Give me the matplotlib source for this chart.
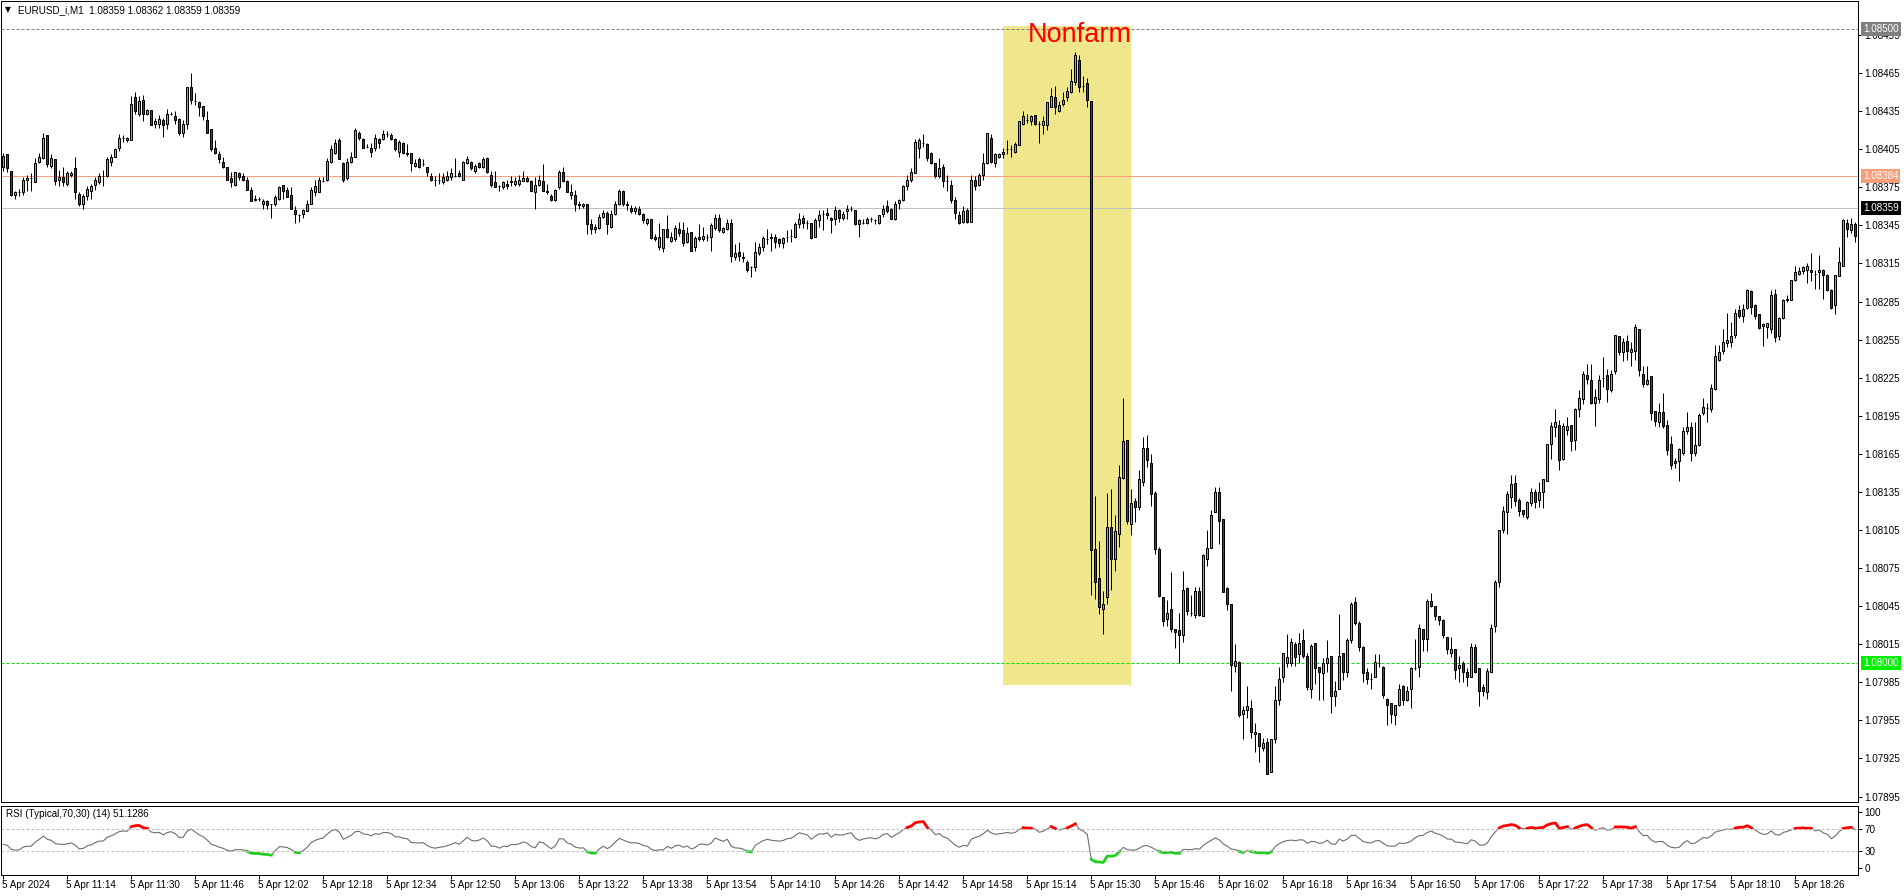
import numpy as np
import matplotlib.pyplot as plt
from matplotlib.patches import Rectangle
import matplotlib.transforms as mtransforms

plt.rcParams['font.family'] = ['Liberation Sans', 'DejaVu Sans']

# EURUSD M1, 5 Apr 2024, prices in points above 1.08000
open_pts = [391, 401, 388, 369, 371, 371, 381, 382, 379, 395, 398, 416, 392, 397, 381, 383, 378, 385, 390, 370,
            362, 368, 372, 377, 379, 384, 384, 395, 399, 406, 414, 412, 412, 446, 433, 444, 433, 436, 425, 425,
            428, 425, 433, 431, 429, 418, 425, 454, 443, 442, 439, 428, 421, 406, 401, 395, 391, 382, 377, 386,
            384, 381, 373, 366, 366, 362, 364, 362, 362, 366, 377, 373, 369, 357, 353, 354, 356, 362, 371, 371,
            380, 381, 395, 402, 412, 394, 382, 395, 399, 418, 413, 407, 406, 406, 413, 413, 417, 416, 413, 403,
            410, 402, 402, 392, 397, 393, 391, 384, 381, 381, 379, 381, 383, 384, 386, 381, 394, 395, 388, 394,
            391, 398, 385, 379, 376, 375, 378, 379, 378, 378, 380, 382, 380, 371, 377, 380, 372, 368, 365, 375,
            387, 380, 369, 369, 362, 360, 362, 346, 342, 343, 352, 355, 344, 354, 362, 372, 362, 359, 356, 358,
            354, 347, 350, 336, 328, 327, 342, 333, 334, 342, 341, 332, 340, 328, 336, 334, 336, 336, 343, 351,
            340, 342, 347, 320, 324, 320, 316, 312, 312, 323, 328, 334, 335, 336, 334, 331, 336, 337, 336, 346,
            351, 347, 347, 336, 349, 354, 355, 351, 350, 357, 351, 356, 358, 357, 346, 347, 347, 350, 349, 347,
            354, 360, 358, 350, 363, 365, 376, 381, 386, 406, 410, 409, 402, 394, 384, 391, 380, 377, 365, 353,
            348, 357, 348, 381, 377, 385, 394, 414, 394, 399, 401, 405, 405, 403, 408, 425, 428, 427, 432, 425,
            424, 424, 438, 446, 435, 441, 446, 450, 458, 475, 455, 457, 443, 90, 67, 43, 52, 107, 82, 102,
            146, 176, 110, 128, 123, 143, 170, 158, 134, 90, 52, 35, 43, 27, 26, 22, 59, 40, 38, 57,
            37, 82, 91, 119, 135, 114, 59, 47, -2, 1, -40, -37, -35, -56, -55, -67, -62, -86, -60, -29,
            -11, 0, 0, 15, 7, 18, 6, -20, 16, -3, -8, 0, 6, -26, -20, 8, -7, 18, 48, 32,
            13, -7, -12, -11, 0, -3, -28, -31, -41, -33, -18, -29, -20, -4, -3, 27, 19, 49, 45, 37,
            34, 21, 8, 11, -4, 0, -7, -11, 13, -4, -19, -23, -7, 29, 64, 105, 119, 131, 142, 129,
            121, 115, 126, 135, 129, 135, 144, 173, 186, 188, 161, 184, 188, 176, 200, 208, 227, 223, 205, 208,
            225, 227, 215, 230, 258, 245, 254, 245, 246, 263, 228, 220, 226, 199, 190, 198, 188, 173, 158, 159,
            166, 183, 186, 166, 172, 197, 201, 200, 216, 239, 246, 252, 253, 259, 278, 274, 280, 293, 282, 275,
            266, 265, 263, 291, 258, 272, 286, 286, 302, 307, 309, 310, 310, 307, 308, 310, 306, 294, 282, 305,
            313, 347, 341, 346]
high_pts = [402, 401, 388, 372, 374, 383, 385, 386, 398, 402, 418, 416, 401, 397, 389, 391, 388, 388, 399, 371,
            370, 376, 378, 383, 386, 389, 399, 401, 406, 417, 416, 415, 447, 450, 447, 448, 437, 436, 430, 432,
            430, 437, 434, 435, 430, 428, 454, 465, 449, 443, 439, 435, 421, 412, 404, 399, 391, 387, 387, 387,
            386, 383, 375, 369, 367, 366, 365, 362, 369, 376, 377, 375, 375, 360, 354, 358, 365, 375, 381, 383,
            383, 398, 408, 413, 414, 395, 398, 403, 422, 419, 414, 409, 410, 417, 414, 420, 419, 418, 414, 412,
            411, 409, 402, 397, 399, 397, 391, 386, 384, 386, 386, 388, 390, 398, 389, 396, 400, 396, 393, 395,
            399, 399, 388, 388, 377, 380, 381, 384, 383, 385, 388, 384, 381, 383, 385, 393, 378, 370, 374, 389,
            391, 381, 378, 373, 364, 363, 362, 350, 346, 354, 357, 356, 357, 364, 374, 373, 364, 361, 360, 360,
            355, 351, 350, 338, 347, 342, 353, 340, 345, 348, 348, 344, 340, 337, 346, 344, 338, 347, 354, 354,
            344, 350, 350, 330, 332, 324, 318, 313, 332, 331, 337, 342, 339, 338, 335, 336, 341, 342, 348, 355,
            353, 349, 347, 351, 357, 357, 359, 352, 360, 358, 356, 361, 360, 357, 350, 350, 352, 352, 350, 353,
            361, 365, 359, 364, 366, 377, 385, 390, 413, 414, 417, 410, 403, 394, 398, 393, 385, 381, 367, 356,
            360, 359, 385, 384, 386, 402, 418, 417, 402, 402, 406, 412, 408, 411, 427, 435, 433, 432, 432, 427,
            431, 442, 453, 455, 443, 450, 454, 468, 482, 479, 463, 461, 443, 132, 96, 57, 134, 137, 117, 156,
            209, 176, 137, 130, 152, 178, 180, 165, 136, 92, 52, 50, 72, 27, 40, 73, 60, 54, 60, 60,
            86, 105, 121, 139, 139, 114, 60, 47, 15, 2, -34, -18, -29, -47, -55, -59, -59, -60, -18, -3,
            8, 23, 20, 17, 24, 27, 8, 15, 16, -3, 4, 18, 6, -14, 39, 8, 20, 48, 52, 33,
            14, -4, -8, 7, 7, -2, -27, -31, -33, -16, -17, -18, -3, 19, 31, 27, 51, 55, 45, 37,
            35, 21, 21, 11, 6, 2, -4, 16, 15, -4, -16, -4, 31, 66, 105, 124, 136, 148, 148, 130,
            121, 128, 138, 137, 143, 145, 173, 190, 200, 192, 189, 194, 188, 201, 215, 230, 236, 236, 216, 227,
            241, 232, 231, 259, 258, 256, 259, 253, 267, 263, 234, 234, 226, 199, 205, 213, 192, 179, 162, 170,
            186, 198, 190, 190, 197, 209, 205, 220, 251, 251, 263, 276, 269, 279, 282, 283, 295, 294, 283, 275,
            268, 268, 294, 295, 273, 287, 290, 302, 313, 312, 313, 315, 323, 310, 322, 311, 307, 295, 306, 328,
            350, 350, 351, 348]
low_pts = [388, 387, 368, 366, 368, 369, 372, 372, 379, 394, 397, 391, 390, 377, 376, 376, 376, 383, 366, 360,
           358, 365, 366, 373, 378, 376, 383, 392, 399, 404, 411, 411, 412, 433, 431, 427, 432, 424, 422, 422,
           415, 421, 432, 425, 416, 415, 421, 441, 440, 431, 428, 418, 404, 401, 394, 390, 381, 375, 376, 381,
           380, 373, 364, 364, 364, 358, 358, 351, 360, 365, 366, 367, 358, 347, 348, 351, 356, 362, 368, 371,
           379, 380, 394, 401, 397, 379, 381, 394, 399, 412, 406, 406, 399, 404, 406, 412, 415, 412, 404, 399,
           401, 400, 388, 391, 390, 392, 384, 380, 376, 378, 378, 380, 381, 383, 383, 381, 393, 389, 386, 390,
           390, 386, 375, 375, 372, 374, 374, 376, 376, 376, 380, 379, 372, 358, 376, 372, 370, 364, 364, 374,
           379, 371, 366, 356, 358, 359, 338, 338, 339, 342, 351, 338, 343, 353, 361, 360, 357, 355, 354, 353,
           347, 345, 334, 333, 326, 324, 335, 332, 333, 337, 329, 331, 325, 325, 333, 333, 333, 325, 341, 340,
           339, 341, 316, 318, 317, 316, 308, 304, 309, 322, 325, 330, 325, 327, 328, 327, 332, 332, 335, 343,
           343, 342, 334, 336, 344, 341, 350, 339, 345, 348, 349, 350, 356, 345, 336, 346, 346, 348, 346, 346,
           352, 355, 350, 349, 358, 364, 373, 379, 386, 398, 407, 396, 393, 382, 382, 375, 372, 363, 350, 346,
           347, 347, 348, 373, 376, 381, 393, 394, 391, 398, 398, 401, 399, 402, 408, 424, 426, 424, 424, 410,
           417, 420, 438, 433, 434, 439, 443, 449, 456, 450, 450, 438, 54, 51, 39, 23, 47, 58, 73, 92,
           145, 110, 101, 111, 121, 140, 155, 124, 86, 52, 29, 29, 25, 12, 0, 17, 38, 37, 36, 37,
           37, 77, 91, 119, 94, 56, 42, -22, -7, -42, -60, -43, -59, -70, -78, -69, -87, -86, -63, -33,
           -15, -3, -2, -2, 0, 4, -21, -27, -16, -29, -29, -7, -39, -34, -20, -13, -11, 16, 30, 10,
           -15, -16, -20, -11, -3, -27, -49, -47, -49, -34, -33, -30, -35, -5, -11, 10, 10, 44, 34, 30,
           20, 7, 5, -12, -15, -15, -18, -11, -8, -34, -26, -28, -7, 25, 60, 103, 102, 122, 124, 116,
           115, 114, 124, 122, 123, 122, 144, 161, 178, 152, 160, 180, 167, 168, 194, 204, 220, 204, 187, 205,
           218, 206, 214, 228, 243, 238, 239, 234, 239, 226, 218, 219, 192, 187, 186, 185, 164, 153, 154, 144,
           164, 181, 159, 163, 171, 196, 190, 198, 215, 238, 244, 249, 249, 256, 272, 269, 279, 275, 271, 263,
           250, 256, 260, 253, 255, 271, 285, 286, 301, 306, 307, 300, 301, 295, 295, 287, 293, 279, 275, 305,
           313, 336, 339, 332]
close_pts = [400, 390, 369, 371, 371, 381, 382, 382, 394, 399, 414, 393, 398, 380, 383, 379, 386, 386, 371, 362,
             368, 374, 376, 381, 384, 384, 397, 399, 405, 414, 414, 414, 441, 435, 443, 433, 436, 424, 427, 429,
             424, 433, 433, 428, 418, 425, 454, 444, 443, 438, 431, 418, 405, 402, 397, 391, 381, 379, 387, 383,
             381, 373, 364, 365, 366, 364, 361, 362, 367, 375, 372, 367, 358, 354, 353, 357, 362, 373, 376, 381,
             380, 396, 405, 410, 397, 381, 395, 399, 420, 414, 406, 407, 403, 414, 410, 417, 417, 413, 405, 411,
             402, 401, 394, 394, 391, 393, 387, 381, 381, 381, 383, 384, 386, 384, 384, 395, 397, 390, 392, 391,
             397, 387, 377, 375, 376, 379, 376, 380, 380, 381, 382, 380, 372, 377, 381, 372, 371, 365, 373, 387,
             380, 371, 371, 362, 361, 362, 346, 342, 344, 352, 355, 346, 354, 362, 372, 362, 361, 356, 359, 354,
             349, 350, 335, 334, 336, 342, 336, 336, 343, 339, 331, 339, 325, 335, 334, 337, 336, 345, 351, 341,
             343, 347, 321, 323, 321, 319, 310, 312, 324, 328, 335, 334, 336, 332, 331, 335, 336, 337, 346, 350,
             347, 347, 335, 349, 353, 354, 353, 349, 357, 351, 354, 358, 358, 346, 349, 347, 350, 350, 349, 353,
             358, 356, 350, 362, 365, 376, 381, 387, 411, 412, 410, 398, 394, 384, 390, 380, 380, 365, 355, 347,
             356, 348, 381, 376, 385, 394, 418, 395, 401, 401, 403, 405, 405, 409, 427, 431, 428, 431, 425, 425,
             427, 442, 447, 438, 440, 444, 451, 459, 479, 454, 455, 444, 89, 64, 44, 47, 107, 82, 104, 147,
             175, 112, 126, 123, 145, 170, 160, 133, 90, 53, 33, 40, 27, 25, 22, 58, 41, 40, 57, 38,
             85, 91, 117, 135, 112, 56, 47, -1, 2, -41, -37, -34, -54, -54, -65, -63, -87, -60, -29, -12,
             8, 5, 17, 5, 16, 6, -19, 14, -4, -7, 0, 4, -26, -22, 6, -7, 18, 47, 32, 13,
             -8, -12, -12, 1, 0, -25, -33, -40, -33, -20, -29, -22, -4, -4, 28, 19, 49, 45, 37, 34,
             22, 11, 11, -5, -1, -7, -11, 13, -7, -22, -22, -6, 28, 64, 105, 120, 133, 141, 128, 120,
             118, 127, 135, 127, 135, 145, 173, 187, 190, 160, 187, 187, 175, 200, 209, 228, 224, 205, 210, 223,
             225, 216, 228, 259, 245, 253, 246, 248, 265, 231, 220, 223, 197, 191, 198, 187, 168, 156, 159, 169,
             183, 186, 166, 172, 196, 202, 201, 217, 242, 245, 253, 255, 258, 276, 274, 279, 294, 281, 274, 264,
             267, 268, 290, 257, 272, 286, 287, 302, 308, 309, 312, 313, 308, 307, 310, 306, 294, 280, 306, 316,
             349, 342, 346, 337]

# time axis labels, one every 16 bars
time_labels = ['5 Apr 2024', '5 Apr 11:14', '5 Apr 11:30', '5 Apr 11:46', '5 Apr 12:02', '5 Apr 12:18',
               '5 Apr 12:34', '5 Apr 12:50', '5 Apr 13:06', '5 Apr 13:22', '5 Apr 13:38', '5 Apr 13:54',
               '5 Apr 14:10', '5 Apr 14:26', '5 Apr 14:42', '5 Apr 14:58', '5 Apr 15:14', '5 Apr 15:30',
               '5 Apr 15:46', '5 Apr 16:02', '5 Apr 16:18', '5 Apr 16:34', '5 Apr 16:50', '5 Apr 17:06',
               '5 Apr 17:22', '5 Apr 17:38', '5 Apr 17:54', '5 Apr 18:10', '5 Apr 18:26']

# horizontal levels: value, line colour, box colour, dashed
levels = [(1.08500, '#808080', '#808080', True),
          (1.08384, '#FA9E7C', '#FA9E7C', False),
          (1.08359, '#C0C0C0', '#000000', False),
          (1.08000, '#00E000', '#00F000', True)]

o = 1.08 + np.array(open_pts) / 1e5
h = 1.08 + np.array(high_pts) / 1e5
l = 1.08 + np.array(low_pts) / 1e5
c = 1.08 + np.array(close_pts) / 1e5
n = len(c)
x = np.arange(n)

# RSI(14) by typical price, seeded with the mean of the first 14 changes
tp = (h + l + c) / 3
d = np.diff(tp)
ups = np.clip(d, 0, None)
dns = np.clip(-d, 0, None)
au = ups[:14].mean()
ad = dns[:14].mean()
rsi = np.full(n, np.nan)
rsi[0] = 100 * au / (au + ad)
for i in range(1, n):
    au = (au * 13 + ups[i - 1]) / 14
    ad = (ad * 13 + dns[i - 1]) / 14
    rsi[i] = 100 * au / (au + ad)

W, H = 1904, 896
fig = plt.figure(figsize=(W / 100, H / 100), dpi=100)
ax = fig.add_axes([1 / W, 1 - 802 / H, 1857 / W, 801 / H])
ax2 = fig.add_axes([1 / W, 1 - 875 / H, 1857 / W, 69 / H])

px = 0.72  # one pixel in points
fs = 7.1
xl = ((1 - 3.3) / 4, (1858 - 3.3) / 4)

# Nonfarm zone
ax.add_patch(Rectangle((249.9, 1.07983), 32, 1.08502 - 1.07983, fc='#F0E68C', ec='none', zorder=0))
ax.text(256.2, 1.084895, 'Nonfarm', color='#FF0000', fontsize=19.5, ha='left', va='baseline', zorder=5)

# levels
for val, lc, bc, dashed in levels:
    ln, = ax.plot(xl, [val, val], color=lc, lw=px, zorder=1)
    if dashed:
        ln.set_dashes((3, 2))
    ypx = 663.4 - (val - 1.08) * 1e5 * 1.2695
    fig.text(1863 / W, 1 - ypx / H, '%.5f' % val, color='white', fontsize=fs, va='center', ha='left',
             bbox=dict(boxstyle='square,pad=0.2', fc=bc, ec='none'), zorder=10)

# candles
up = c >= o
ax.vlines(x, l, h, color='black', lw=px, zorder=2)
ax.bar(x, np.abs(c - o), bottom=np.minimum(o, c), width=0.5,
       color=np.where(up, '#2EDB8C', '#E00000'), edgecolor='black', linewidth=px, zorder=3)

ax.set_xlim(xl)
ax.set_ylim(1.078907, 1.085218)
ax.set_xticks([])
ax.yaxis.tick_right()
yt = np.arange(1.07895, 1.08496, 0.0003)
ax.set_yticks(yt)
ax.set_yticklabels(['%.5f' % v for v in yt])
ax.tick_params(axis='y', direction='out', length=3, width=px, pad=1.5, labelsize=fs)
for s in ax.spines.values():
    s.set_linewidth(px)

fig.text(5 / W, 1 - 10 / H, '▼', family='DejaVu Sans', fontsize=5.5, va='center', ha='left')
fig.text(18 / W, 1 - 10.5 / H, 'EURUSD_i,M1  1.08359 1.08362 1.08359 1.08359', fontsize=fs, va='center', ha='left')

# RSI panel
ax2.plot(x, rsi, color='#6E6E6E', lw=0.8)
ax2.plot(x, np.where(rsi >= 70, rsi, np.nan), color='#FF0000', lw=2)
ax2.plot(x, np.where(rsi <= 30, rsi, np.nan), color='#22CC22', lw=2)
for lv in (70, 30):
    ln, = ax2.plot(xl, [lv, lv], color='#C0C0C0', lw=px)
    ln.set_dashes((3, 2))
ax2.set_xlim(xl)
ax2.set_ylim(-11.8, 110.1)
ax2.yaxis.tick_right()
ax2.set_yticks([0, 30, 70, 100])
ax2.tick_params(axis='y', direction='out', length=3, width=px, pad=1.5, labelsize=fs)
ticks = np.arange(0, n, 16)[:len(time_labels)]
ax2.set_xticks(ticks)
ax2.set_xticklabels([])
ax2.tick_params(axis='x', direction='out', length=3, width=px)
tr = mtransforms.blended_transform_factory(ax2.transData, fig.transFigure)
for t, lab in zip(ticks, time_labels):
    ax2.text(t - 0.3, 1 - 885 / H, lab, transform=tr, fontsize=fs, ha='left', va='center', clip_on=False)
for s in ax2.spines.values():
    s.set_linewidth(px)
ax2.text(0.8, 96, 'RSI (Typical,70,30) (14) 51.1286', fontsize=fs, ha='left', va='center')

fig.savefig('out.png', dpi=100)
